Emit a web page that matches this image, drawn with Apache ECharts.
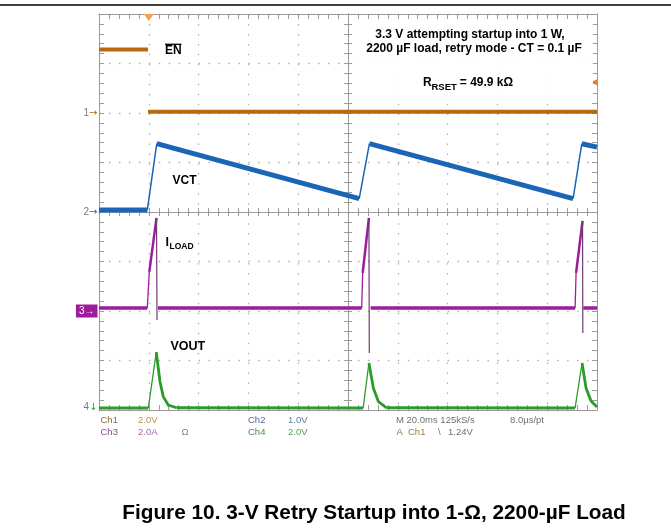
<!DOCTYPE html>
<html><head><meta charset="utf-8">
<script src="https://cdn.jsdelivr.net/npm/echarts@6/dist/echarts.min.js"></script>
<style>html,body{margin:0;padding:0;background:#fff}#c{width:671px;height:529px}</style>
</head><body><div id="c"></div>
<script>
// ---- Time axis: ms, 20 ms/div, trigger at t = 0 ----
const timeMin = -20, timeMax = 180, timeStep = 20;

// ---- Ch1: EN (V), 2.0 V/div ----
const enTime = [-20, -0.3, -0.3, 180];
const enVolt = [2.57, 2.57, 0.05, 0.05];
const enKind = ['s', 'g', 's'];

// ---- Ch2: VCT (V), 1.0 V/div ----
const vctTime = [-20, -0.6, 3.2, 84.5, 88.6, 170.4, 173.9, 180];
const vctVolt = [0.04, 0.04, 1.38, 0.27, 1.38, 0.27, 1.38, 1.31];
const vctKind = ['s', 'f', 's', 'f', 's', 'f', 's'];

// ---- Ch3: ILOAD (A), 2.0 A/div ----
const iTime = [-20, -0.6, 0.2, 3.1, 3.3, 3.7, 85.5, 85.9, 88.4, 88.55, 89.1, 171.2, 171.6, 174.2, 174.3, 174.5, 180];
const iAmp  = [0.12, 0.12, 1.58, 3.76, -0.36, 0.12, 0.12, 1.54, 3.76, -1.70, 0.12, 0.12, 1.54, 3.64, -0.89, 0.12, 0.12];
const iKind = ['s', 'f', 'm', 'd', 'g', 's', 'f', 'm', 'd', 'g', 's', 'f', 'm', 'd', 'g', 's'];

// ---- Ch4: VOUT (V), 2.0 V/div ----
const voutTime = [-20, -0.2, 3.0, 4.5, 5.8, 7.8, 11.2, 86.1, 88.4, 90.2, 92.2, 95.5, 171.2, 174.0, 175.6, 177.6, 180];
const voutVolt = [0.08, 0.08, 2.34, 1.14, 0.54, 0.20, 0.09, 0.08, 1.90, 0.88, 0.34, 0.09, 0.08, 1.90, 0.89, 0.36, 0.12];
const voutKind = ['s', 'f', 'm', 'm', 'm', 'm', 's', 'f', 'm', 'm', 'm', 's', 'f', 'm', 'm', 'm'];

// ---- Channel axes: [min, max, interval] ----
const ch1Axis = [-12, 4, 2];
const ch2Axis = [-4, 4, 1];
const ch3Axis = [-4, 12, 2];
const ch4Axis = [0, 16, 2];
const trigLevel = 1.24;

const C1 = '#b8680f', C2 = '#1b65b6', C3 = '#9c1c9c', C4 = '#2a9c2a';

function seg(T, V, K, kind) {
  const out = [];
  let last = -2;
  for (let i = 0; i < K.length; i++) {
    if (K[i] !== kind) continue;
    if (last !== i - 1) {
      if (out.length) out.push([T[i], '-']);
      out.push([T[i], V[i]]);
    }
    out.push([T[i + 1], V[i + 1]]);
    last = i;
  }
  return out;
}

const frameCol = '#9c9c9c';
const dotStyle = { color: '#b0b0b0', width: 1.3, type: [1.5, 8.46] };
function frameX(pos, len, split, extra) {
  return Object.assign({
    type: 'value', min: timeMin, max: timeMax, interval: timeStep, position: pos,
    axisLine: { show: true, onZero: false, lineStyle: { color: frameCol, width: 1 } },
    axisTick: { show: true, inside: true, length: len, lineStyle: { color: frameCol } },
    minorTick: { show: true, splitNumber: 5, length: len, lineStyle: { color: frameCol } },
    splitLine: { show: split, lineStyle: dotStyle },
    minorSplitLine: { show: false },
    axisLabel: { show: false }
  }, extra || {});
}
function frameY(ax, pos, len, split, extra) {
  return Object.assign({
    type: 'value', min: ax[0], max: ax[1], interval: ax[2], position: pos,
    axisLine: { show: true, onZero: false, lineStyle: { color: frameCol, width: 1 } },
    axisTick: { show: true, inside: true, length: len, lineStyle: { color: frameCol } },
    minorTick: { show: true, splitNumber: 5, length: len, lineStyle: { color: frameCol } },
    splitLine: { show: split, lineStyle: dotStyle },
    minorSplitLine: { show: false },
    axisLabel: { show: false }
  }, extra || {});
}
function hiddenY(ax) {
  return { type: 'value', min: ax[0], max: ax[1], interval: ax[2], show: false };
}

function line(data, yIdx, color, width, z, extra) {
  return Object.assign({
    type: 'line', xAxisIndex: 0, yAxisIndex: yIdx, data: data,
    showSymbol: false, symbol: 'none', silent: true, animation: false,
    connectNulls: false, z: z,
    lineStyle: { color: color, width: width, join: 'round', cap: 'butt' }
  }, extra || {});
}

function chMarker(num, arrow, col, boxed, dy) {
  const lab = boxed ? {
    show: true, position: 'left', distance: 1, offset: [0, dy || 0],
    formatter: num + arrow, color: '#fff', backgroundColor: col,
    padding: [2, 3, 1, 3], fontSize: 10, fontFamily: 'Liberation Sans, Arial, sans-serif'
  } : {
    show: true, position: 'left', distance: 1, offset: [0, dy || 0],
    formatter: '{n|' + num + '}{a|' + arrow + '}',
    rich: { n: { color: '#7a7a7a', fontSize: 10, fontFamily: 'Liberation Sans, Arial, sans-serif' },
            a: { color: col, fontSize: 10, fontFamily: 'DejaVu Sans, sans-serif' } }
  };
  return { coord: [timeMin, 0], symbol: 'circle', symbolSize: 1, itemStyle: { color: 'rgba(0,0,0,0)' }, label: lab };
}

const series = [
  line(seg(enTime, enVolt, enKind, 's'), 0, C1, 4, 5, {
    markPoint: { silent: true, animation: false, data: [
      chMarker('1', '\u2192', C1, false),
      { coord: [0, ch1Axis[1]], symbol: 'triangle', symbolRotate: 180, symbolSize: [10, 7], symbolOffset: [0, 3.5], itemStyle: { color: '#f2a04c' }, label: { show: false } },
      { coord: [timeMax, trigLevel], symbol: 'triangle', symbolRotate: 90, symbolSize: [6, 6], symbolOffset: [-3, 0], itemStyle: { color: '#d9822b' }, label: { show: false } }
    ] }
  }),
  line(seg(vctTime, vctVolt, vctKind, 's'), 1, C2, 5, 6, {
    markPoint: { silent: true, animation: false, data: [chMarker('2', '\u2192', C2, false)] }
  }),
  line(seg(vctTime, vctVolt, vctKind, 'f'), 1, C2, 1.5, 6),
  line(seg(iTime, iAmp, iKind, 's'), 2, C3, 3.5, 7, {
    markPoint: { silent: true, animation: false, data: [chMarker('3', '\u2192', C3, true)] }
  }),
  line(seg(iTime, iAmp, iKind, 'm'), 2, C3, 2.5, 7),
  line(seg(iTime, iAmp, iKind, 'f'), 2, C3, 1.3, 7),
  line(seg(iTime, iAmp, iKind, 'd'), 2, '#6d3b6d', 1.2, 7),
  line(seg(voutTime, voutVolt, voutKind, 's'), 3, C4, 3, 8, {
    markPoint: { silent: true, animation: false, data: [chMarker('4', '\u2193', C4, false, -3)] }
  }),
  line(seg(voutTime, voutVolt, voutKind, 'm'), 3, C4, 2.8, 8),
  line(seg(voutTime, voutVolt, voutKind, 'f'), 3, C4, 1.3, 8)
];

const F = '"Liberation Sans", Arial, sans-serif';
function txt(x, y, s, font, color, align) {
  return { type: 'text', x: x, y: y, z: 50, silent: true,
    style: { text: s, font: font, fill: color || '#000', align: align || 'left', verticalAlign: 'middle' } };
}
const B12 = 'bold 12px ' + F;
const R = '9.5px ' + F;

const graphic = [
  { type: 'line', z: 50, shape: { x1: 0, y1: 5, x2: 671, y2: 5 }, style: { stroke: '#000', lineWidth: 1.6 } },
  { type: 'rect', z: 40, shape: { x: 353, y: 22, width: 240, height: 74 }, style: { fill: 'rgba(255,255,255,0.85)' } },
  txt(470, 34.3, '3.3 V attempting startup into 1 W,', B12, '#000', 'center'),
  txt(474, 48.5, '2200 \u00B5F load, retry mode - CT = 0.1 \u00B5F', B12, '#000', 'center'),
  txt(423, 82.5, 'R', B12),
  txt(431.5, 87, 'RSET', 'bold 9.5px ' + F),
  txt(456.5, 82.5, ' = 49.9 k\u03A9', B12),
  txt(165, 50.5, 'EN', B12),
  { type: 'line', z: 50, shape: { x1: 165, y1: 44.3, x2: 181.5, y2: 44.3 }, style: { stroke: '#000', lineWidth: 1.3 } },
  txt(172.5, 181, 'VCT', B12),
  txt(165.5, 243, 'I', 'bold 12.5px ' + F),
  txt(169.5, 247, 'LOAD', 'bold 8.5px ' + F),
  txt(170.5, 347, 'VOUT', 'bold 12.5px ' + F),
  // readout
  txt(100.5, 420.5, 'Ch1', R, '#8d6d3d'), txt(138, 420.5, '2.0V', R, '#b8925c'),
  txt(248, 420.5, 'Ch2', R, '#56699c'), txt(288, 420.5, '1.0V', R, '#6478a8'),
  txt(396, 420.5, 'M 20.0ms 125kS/s', R, '#707070'), txt(510, 420.5, '8.0\u00B5s/pt', R, '#707070'),
  txt(100.5, 432.3, 'Ch3', R, '#8e4f8e'), txt(138, 432.3, '2.0A', R, '#a46aa4'),
  txt(181.5, 432.3, '\u03A9', R, '#8e7a8e'),
  txt(248, 432.3, 'Ch4', R, '#4c8c4c'), txt(288, 432.3, '2.0V', R, '#5a9a5a'),
  txt(396.5, 432.3, 'A', R, '#707070'), txt(408, 432.3, 'Ch1', R, '#a07a44'),
  txt(438, 432.3, '\\', R, '#707070'), txt(448, 432.3, '1.24V', R, '#707070'),
  // caption
  txt(374, 513, 'Figure 10. 3-V Retry Startup into 1-\u03A9, 2200-\u00B5F Load', 'bold 20.8px ' + F, '#000', 'center')
];

const chart = echarts.init(document.getElementById('c'), null, { renderer: 'canvas' });
chart.setOption({
  animation: false,
  backgroundColor: '#ffffff',
  grid: { left: 99, top: 14, width: 498, height: 396, containLabel: false, outerBoundsMode: 'none' },
  xAxis: [
    frameX('bottom', 5, true),
    frameX('top', 5, false),
    frameX('bottom', 4, false, { axisLine: { show: true, onZero: true, onZeroAxisIndex: 1, lineStyle: { color: frameCol } } }),
    frameX('top', 4, false, { axisLine: { show: true, onZero: true, onZeroAxisIndex: 1, lineStyle: { color: frameCol } } }),
    { type: 'value', min: -100, max: 100, interval: 20, show: false }
  ],
  yAxis: [
    hiddenY(ch1Axis),
    hiddenY(ch2Axis),
    hiddenY(ch3Axis),
    frameY(ch4Axis, 'left', 5, true),
    frameY(ch4Axis, 'right', 5, false),
    frameY(ch4Axis, 'left', 4, false, { axisLine: { show: true, onZero: true, onZeroAxisIndex: 4, lineStyle: { color: frameCol } } }),
    frameY(ch4Axis, 'right', 4, false, { axisLine: { show: true, onZero: true, onZeroAxisIndex: 4, lineStyle: { color: frameCol } } })
  ],
  series: series,
  graphic: graphic
});
</script>
</body></html>
